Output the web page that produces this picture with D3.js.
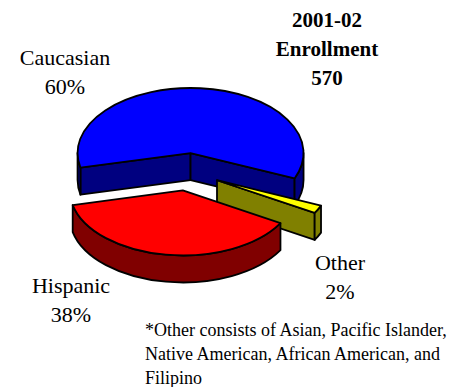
<!DOCTYPE html>
<html>
<head>
<meta charset="utf-8">
<script src="https://cdn.jsdelivr.net/npm/d3@7"></script>
<style>
  html, body { margin: 0; padding: 0; background: #fff; }
  svg { display: block; }
</style>
</head>
<body>
<svg id="chart" width="465" height="387"></svg>
<script>
// ---- data ----
const categories = ["Caucasian", "Hispanic", "Other"];
const values = [60, 38, 2];
const percentLabels = ["60%", "38%", "2%"];
const titleLines = ["2001-02", "Enrollment", "570"];
const footnoteLines = [
  "*Other consists of Asian, Pacific Islander,",
  "Native American, African American, and",
  "Filipino"
];
const topColors = ["#0000FF", "#FF0000", "#FFFF00"];
const sideColors = ["#000080", "#800000", "#808000"];
const sliceOrder = [0, 2, 1];   // pie goes Caucasian -> Other -> Hispanic clockwise

// ---- layout ----
const FONT = "'Liberation Serif', 'Times New Roman', Times, serif";
const cx = 187.7, cy = 171.8;   // unexploded centre
const rx = 113, ry = 65, depth = 27, explode = 0.29;
const deg = Math.PI / 180;

const svg = d3.select("#chart");

const pie = d3.pie()
  .value(i => values[i])
  .sort(null)
  .startAngle(-103 * deg)
  .endAngle(-103 * deg + 2 * Math.PI);

const arcs = pie(sliceOrder);

function pt(c, a, dz) {
  return [c[0] + rx * Math.sin(a), c[1] - ry * Math.cos(a) + dz];
}
function topPath(c, a0, a1) {
  const p0 = pt(c, a0, 0), p1 = pt(c, a1, 0);
  const large = (a1 - a0) > Math.PI ? 1 : 0;
  return `M${c[0]},${c[1]}L${p0[0]},${p0[1]}A${rx},${ry} 0 ${large} 1 ${p1[0]},${p1[1]}Z`;
}
function wallPath(c, s, e) {
  const p0 = pt(c, s, 0), p1 = pt(c, e, 0), q1 = pt(c, e, depth), q0 = pt(c, s, depth);
  return `M${p0[0]},${p0[1]}A${rx},${ry} 0 0 1 ${p1[0]},${p1[1]}L${q1[0]},${q1[1]}A${rx},${ry} 0 0 0 ${q0[0]},${q0[1]}Z`;
}
function facePath(c, a) {
  const p = pt(c, a, 0), q = pt(c, a, depth);
  return `M${c[0]},${c[1]}L${p[0]},${p[1]}L${q[0]},${q[1]}L${c[0]},${c[1] + depth}Z`;
}

const drawOrder = [0, 2, 1]; // blue (back), other, red (front)
const sw = 1.8;
function styled(sel, fill) {
  return sel.attr("fill", fill).attr("stroke", "#000")
    .attr("stroke-width", sw).attr("stroke-linejoin", "round");
}
drawOrder.forEach(idx => {
  const d = arcs.find(a => a.data === idx);
  const a0 = d.startAngle, a1 = d.endAngle, m = (a0 + a1) / 2;
  const c = [cx + explode * rx * Math.sin(m), cy - explode * ry * Math.cos(m)];
  const g = svg.append("g");
  if (Math.sin(a0) < 0) styled(g.append("path").attr("d", facePath(c, a0)), sideColors[idx]);
  if (Math.sin(a1) > 0) styled(g.append("path").attr("d", facePath(c, a1)), sideColors[idx]);
  for (let k = -1; k <= 1; k++) {
    const s = Math.max(a0, Math.PI / 2 + 2 * Math.PI * k);
    const e = Math.min(a1, 3 * Math.PI / 2 + 2 * Math.PI * k);
    if (e > s + 1e-6) styled(g.append("path").attr("d", wallPath(c, s, e)), sideColors[idx]);
  }
  styled(g.append("path").attr("d", topPath(c, a0, a1)), topColors[idx]);
});

// ---- labels ----
const labelPos = [[65, 65], [71, 293], [340, 270]];
categories.forEach((name, i) => {
  const t = svg.append("text")
    .attr("x", labelPos[i][0]).attr("y", labelPos[i][1])
    .attr("text-anchor", "middle")
    .attr("font-family", FONT).attr("font-size", 22).attr("fill", "#000");
  t.append("tspan").attr("x", labelPos[i][0]).text(name);
  t.append("tspan").attr("x", labelPos[i][0]).attr("dy", 29).text(percentLabels[i]);
});

titleLines.forEach((line, i) => {
  svg.append("text")
    .attr("x", 327).attr("y", 27 + i * 29)
    .attr("text-anchor", "middle")
    .attr("font-family", FONT).attr("font-size", 21).attr("font-weight", "bold").attr("fill", "#000")
    .text(line);
});

footnoteLines.forEach((line, i) => {
  svg.append("text")
    .attr("x", 145).attr("y", 336 + i * 24)
    .attr("font-family", FONT).attr("font-size", 18).attr("fill", "#000")
    .text(line);
});
</script>
</body>
</html>
